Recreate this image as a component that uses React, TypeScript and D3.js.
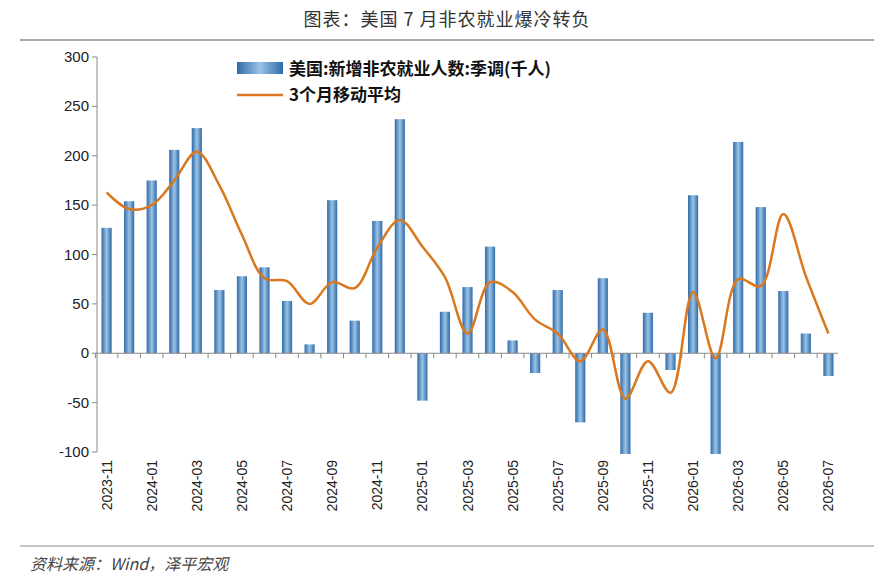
import React from "react";
import * as d3 from "d3";

const months = ["2023-11","2023-12","2024-01","2024-02","2024-03","2024-04","2024-05","2024-06","2024-07","2024-08","2024-09","2024-10","2024-11","2024-12","2025-01","2025-02","2025-03","2025-04","2025-05","2025-06","2025-07","2025-08","2025-09","2025-10","2025-11","2025-12","2026-01","2026-02","2026-03","2026-04","2026-05","2026-06","2026-07"];
const payrolls = [127,154,175,206,228,64,78,87,53,9,155,33,134,237,-48,42,67,108,13,-20,64,-70,76,-102,41,-17,160,-102,214,148,63,20,-23];
const movingAvg = [163,146,150,175,204,170,120,76,73,50,72,66,107,135,108,77,20,72,62,34,20,-8,24,-46,-8,-40,62,-5,75,68,141,78,20];
const yTicks = [-100,-50,0,50,100,150,200,250,300];

export default function App() {
  const W = 894, H = 586;
  const left = 97, right = 838, top = 57, bottom = 452;
  const x = d3.scaleBand().domain(months).range([left, right]).paddingInner(0.55).paddingOuter(0.2);
  const y = d3.scaleLinear().domain([-100, 300]).range([bottom, top]);
  const cx = (m: string) => (x(m) as number) + x.bandwidth() / 2;
  const line = d3.line<number>().x((_, i) => cx(months[i])).y(d => y(d)).curve(d3.curveCatmullRom.alpha(0.5));
  const font = "'Noto Sans CJK SC', 'Noto Sans', sans-serif";
  return (
    <svg width={W} height={H} style={{ position: "absolute", left: 0, top: 0, background: "#fff" }}>
      <defs>
        <linearGradient id="bg" x1="0" x2="1" y1="0" y2="0">
          <stop offset="0" stopColor="#2e6aa8" />
          <stop offset="0.5" stopColor="#9cc3e6" />
          <stop offset="1" stopColor="#2e6aa8" />
        </linearGradient>
      </defs>
      <text x={W / 2} y={26} textAnchor="middle" fontFamily={font} fontSize={18} fill="#333" letterSpacing={1}>图表：美国 7 月非农就业爆冷转负</text>
      <line x1={20} x2={W - 20} y1={40} y2={40} stroke="#8a8a8a" strokeWidth={1.5} />
      <line x1={left} x2={left} y1={top} y2={bottom} stroke="#888" />
      {yTicks.map(t => (
        <g key={t}>
          <line x1={left - 5} x2={left} y1={y(t)} y2={y(t)} stroke="#888" />
          <text x={left - 8} y={y(t) + 5} textAnchor="end" fontFamily="Arial, 'Liberation Sans', sans-serif" fontSize={15} fill="#222">{t}</text>
        </g>
      ))}
      {payrolls.map((v, i) => (
        <rect key={i} x={x(months[i])} width={x.bandwidth()} y={y(Math.max(0, v))} height={Math.abs(y(v) - y(0))} fill="url(#bg)" />
      ))}
      <line x1={left} x2={right} y1={y(0)} y2={y(0)} stroke="#888" />
      {months.map((m, i) => (
        <line key={m} x1={cx(m) - x.step() / 2} x2={cx(m) - x.step() / 2} y1={y(0)} y2={y(0) + 5} stroke="#888" />
      ))}
      <path d={line(movingAvg) || ""} fill="none" stroke="#d9781e" strokeWidth={2.5} />
      {months.map((m, i) => i % 2 === 0 ? (
        <text key={m} transform={`translate(${cx(m) + 5},${bottom + 8}) rotate(-90)`} textAnchor="end" fontFamily="Arial, 'Liberation Sans', sans-serif" fontSize={14} fill="#222">{m}</text>
      ) : null)}
      <rect x={237} y={62} width={46} height={12} fill="url(#bg)" />
      <text x={289} y={75} fontFamily={font} fontSize={17} fontWeight="bold" fill="#111">美国:新增非农就业人数:季调(千人)</text>
      <line x1={237} x2={283} y1={95} y2={95} stroke="#d9781e" strokeWidth={2.5} />
      <text x={289} y={101} fontFamily={font} fontSize={17} fontWeight="bold" fill="#111">3个月移动平均</text>
      <line x1={20} x2={W - 20} y1={546} y2={546} stroke="#8a8a8a" strokeWidth={1} />
      <text x={30} y={570} fontFamily={font} fontSize={16} fontStyle="italic" fill="#444">资料来源：Wind，泽平宏观</text>
    </svg>
  );
}
